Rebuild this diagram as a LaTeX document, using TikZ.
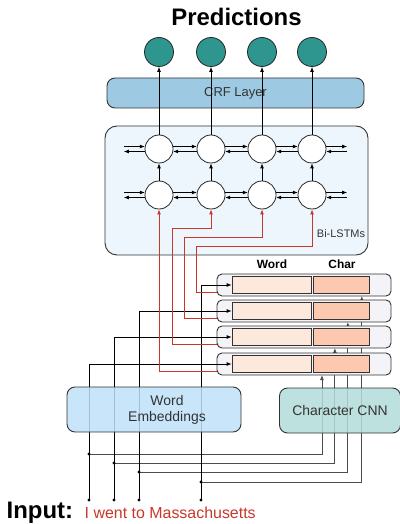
\documentclass[tikz,border=0pt]{standalone}
\usepackage{fontspec}
\setmainfont{Liberation Sans}
\usetikzlibrary{arrows.meta}

\definecolor{predteal}{HTML}{2F958F}
\definecolor{crfblue}{HTML}{9DC9E3}
\definecolor{lstmback}{HTML}{EEF6FD}
\definecolor{embblue}{HTML}{BEE0F9}
\definecolor{cnnteal}{HTML}{B2DCD9}
\definecolor{rowback}{HTML}{F3F3F8}
\definecolor{wordpart}{HTML}{FDE8DC}
\definecolor{charpart}{HTML}{FDC8B0}
\definecolor{inputred}{HTML}{C8372A}

\tikzset{
    cell/.style={circle, draw=black!85, line width=0.8pt, fill=white,
        minimum size=28bp, inner sep=0pt},
    outcell/.style={cell, fill=predteal, minimum size=29bp},
    layerbox/.style={draw=black!80, line width=0.9pt, rounded corners=8bp,
        inner sep=0pt, text=black!80},
    rowbox/.style={draw=black!80, line width=0.9pt, rounded corners=5bp,
        fill=rowback, minimum width=174bp, minimum height=22bp, inner sep=0pt},
    partbox/.style={draw=black!80, line width=0.8pt, minimum height=17bp,
        inner sep=0pt},
    wordline/.style={black, line width=0.8pt},
    cnnline/.style={black!70, line width=0.8pt},
    redline/.style={inputred, line width=0.9pt},
}

\begin{document}
\begin{tikzpicture}[x=1bp, y=-1bp, >={Latex[length=5bp,width=4bp]}]
% word and character vectors of every token go up through the Bi-LSTMs
% and the CRF layer to one prediction per token
\useasboundingbox (0,0) rectangle (399,524);

\node[layerbox, fill=lstmback, minimum width=263bp, minimum height=129bp,
    rounded corners=12bp] (lstm) at (236.5,190.5) {};
\node[font=\fontsize{11}{13}\selectfont, text=black!80] (lstmname)
    at (341,234) {Bi-LSTMs};
\node[layerbox, fill=crfblue, minimum width=257bp, minimum height=30bp,
    font=\fontsize{13}{15}\selectfont] (crf) at (235.5,93) {CRF Layer};
\node[font=\bfseries\fontsize{24}{28}\selectfont, anchor=base] (title)
    at (236.5,26) {Predictions};

\foreach \i/\x in {1/159, 2/211, 3/262, 4/312} {
    \node[outcell] (p\i) at (\x,52) {};
    \node[cell] (h\i) at (\x,149) {};
    \node[cell] (g\i) at (\x,195) {};
    \draw[->, line width=0.8pt] (g\i) -- (h\i);
    \draw[->, line width=0.8pt] (h\i) -- (p\i);
}

% forward and backward links
\foreach \r in {h, g} {
    \foreach \i/\j in {1/2, 2/3, 3/4} {
        \draw[->, line width=0.8pt] (\r\i.10) -- (\r\j.170);
        \draw[->, line width=0.8pt] (\r\j.190) -- (\r\i.350);
    }
    \draw[->, line width=0.8pt] ([xshift=-21pt]\r1.170) -- (\r1.170);
    \draw[<-, line width=0.8pt] ([xshift=-21pt]\r1.190) -- (\r1.190);
    \draw[->, line width=0.8pt] (\r4.10) -- ([xshift=21pt]\r4.10);
    \draw[<-, line width=0.8pt] (\r4.350) -- ([xshift=21pt]\r4.350);
}

% tokens and branch points
\foreach \i/\x/\jy in {1/89/454, 2/114/463, 3/139/472, 4/201/482} {
    \coordinate (in\i) at (\x,500);
    \coordinate (j\i) at (\x,\jy);
}

% character vectors, behind the rows
\draw[cnnline, ->] (j1) -| ([xshift=18pt]304,375);
\draw[cnnline, ->] (j2) -| ([xshift=31pt]304,348);
\draw[cnnline, ->] (j3) -| ([xshift=44pt]304,322);
\draw[cnnline, ->] (j4) -| ([xshift=58pt]304,296);

\foreach \i/\y in {1/364, 2/337, 3/311, 4/285} {
    \node[rowbox] (v\i) at (304,\y) {};
    \node[partbox, fill=wordpart, minimum width=79bp] (wd\i) at (271.5,\y) {};
    \node[partbox, fill=charpart, minimum width=56bp] (ch\i) at (341,\y) {};
}
\node[font=\bfseries\fontsize{12}{14}\selectfont] (wordhead) at (272,264) {Word};
\node[font=\bfseries\fontsize{12}{14}\selectfont] (charhead) at (342,264) {Char};

% word vectors
\foreach \i in {1,...,4} {
    \draw[wordline, ->] (in\i) |- (wd\i.west);
    \fill (in\i) circle (1.6);
    \fill (j\i) circle (1.6);
}

% concatenated vectors into the lower Bi-LSTM cells
\draw[redline, ->] ([yshift=-7pt]v1.west) -| (g1.south);
\draw[redline, ->] ([yshift=-7pt]v2.west) -| (172,228) -| (g2.south);
\draw[redline, ->] ([yshift=-7pt]v3.west) -| (184,237) -| (g3.south);
\draw[redline, ->] ([yshift=-7pt]v4.west) -| (196,246) -| (g4.south);

\node[layerbox, fill=embblue, fill opacity=0.85, text opacity=1,
    minimum width=174bp, minimum height=45bp] (emb) at (154,409.5) {};
\node[align=center, text=black!80, font=\fontsize{14}{15.5}\selectfont]
    (embname) at (167,410) {Word\\Embeddings};
\node[layerbox, fill=cnnteal, fill opacity=0.85, text opacity=1,
    minimum width=121bp, minimum height=45bp,
    font=\fontsize{14}{16}\selectfont] (cnn) at (340,410.5) {Character CNN};

\node[font=\bfseries\fontsize{24}{28}\selectfont, anchor=base west,
    inner sep=0pt] (inputname) at (6.5,518) {Input:};
\node[font=\fontsize{16}{18}\selectfont, text=inputred, anchor=base west,
    inner sep=0pt] (sentence) at (84.5,518) {I went to Massachusetts};
\end{tikzpicture}
\end{document}
